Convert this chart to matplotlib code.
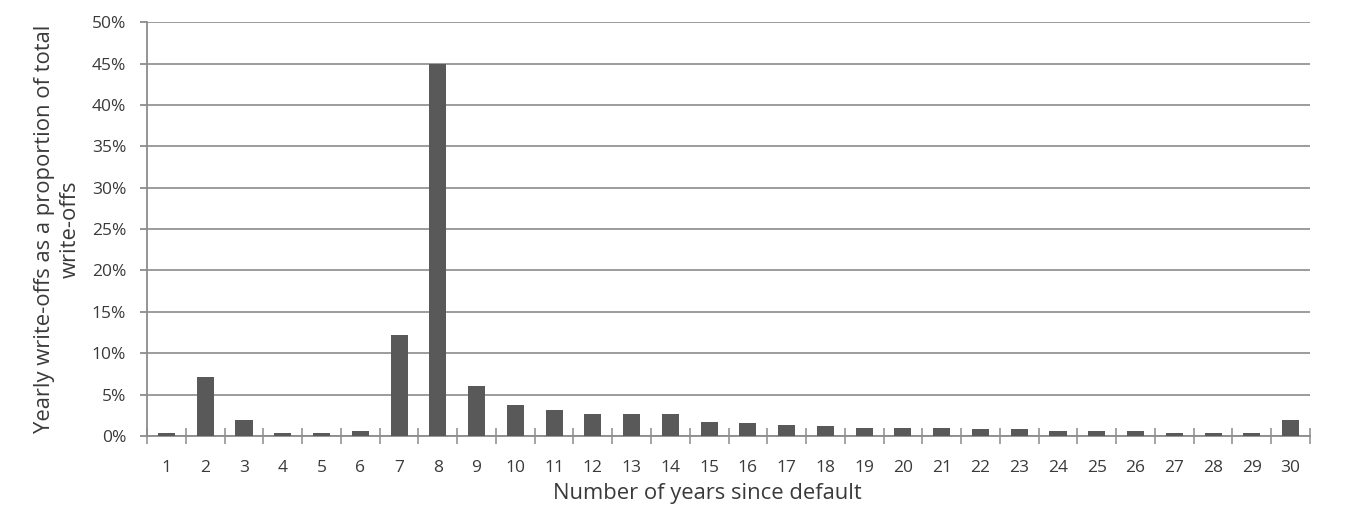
import matplotlib
matplotlib.use('Agg')
import matplotlib.pyplot as plt
import numpy as np
from matplotlib.ticker import FixedLocator, PercentFormatter

# Data
years = list(range(1, 31))
share = [0.4, 7.1, 1.9, 0.4, 0.4, 0.6, 12.2, 45.0, 6.0, 3.7,
         3.1, 2.7, 2.7, 2.7, 1.7, 1.6, 1.3, 1.2, 1.0, 1.0,
         1.0, 0.8, 0.8, 0.6, 0.6, 0.6, 0.4, 0.4, 0.4, 1.9]
y_ticks = list(range(0, 51, 5))

plt.rcParams['font.family'] = ['Open Sans', 'DejaVu Sans']

# Layout
fig = plt.figure(figsize=(13.53, 5.16), dpi=100)
ax = fig.add_axes([0.1087, 0.155, 0.8595, 0.802])

axis_grey = '#8c8c8c'
text_grey = '#3a3a3a'

# Plot
x = np.arange(len(years))
ax.bar(x, share, width=0.44, color='#595959', zorder=3)

# Details
ax.set_xlim(-0.5, len(years) - 0.5)
ax.set_ylim(0, 50)
ax.set_yticks(y_ticks)
ax.yaxis.set_major_formatter(PercentFormatter(decimals=0))
ax.set_xticks(x)
ax.set_xticklabels([str(y) for y in years])
ax.xaxis.set_minor_locator(FixedLocator(np.arange(-0.5, len(years), 1.0)))

ax.grid(axis='y', color='#9c9c9c', linewidth=1.4, zorder=0)
for side in ['top', 'right']:
    ax.spines[side].set_visible(False)
for side in ['left', 'bottom']:
    ax.spines[side].set_color(axis_grey)
    ax.spines[side].set_linewidth(1.3)

ax.tick_params(axis='x', which='major', length=0, pad=17, labelsize=12.5, labelcolor=text_grey)
ax.tick_params(axis='x', which='minor', direction='inout', length=12, width=1.1, color=axis_grey)
ax.tick_params(axis='y', which='major', direction='out', length=5, width=1.3, color=axis_grey,
               pad=10, labelsize=12.5, labelcolor=text_grey)

ax.set_xlabel('Number of years since default', fontsize=15.8, color=text_grey)
ax.xaxis.set_label_coords(0.4815, -0.113)
ax.set_ylabel('Yearly write-offs as a proportion of total\nwrite-offs', fontsize=15.8,
              color=text_grey, linespacing=1.3)
ax.yaxis.set_label_coords(-0.057, 0.5)

# Output
fig.savefig('out.png', dpi=100)
